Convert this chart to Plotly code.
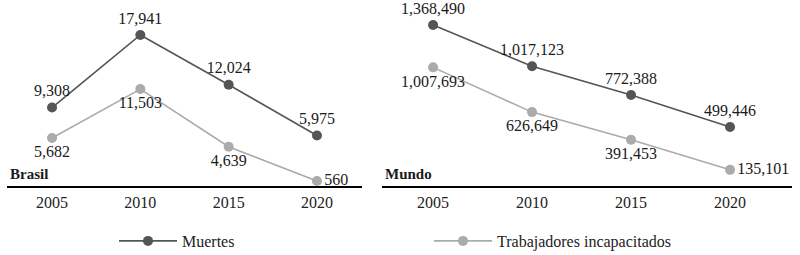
import plotly.graph_objects as go

years = [2005, 2010, 2015, 2020]
brasil_muertes = [9308, 17941, 12024, 5975]
brasil_incap = [5682, 11503, 4639, 560]
mundo_muertes = [1368490, 1017123, 772388, 499446]
mundo_incap = [1007693, 626649, 391453, 135101]
series_names = ["Muertes", "Trabajadores incapacitados"]
panel_titles = ["Brasil", "Mundo"]

FONT = "Liberation Serif"
DARK = "#555555"
LIGHT = "#ababab"
W, H = 800, 255

fig = go.Figure()

def add(x, y, name, color, pos, xa, ya, show):
    fig.add_trace(go.Scatter(
        x=x, y=y, name=name, mode="lines+markers+text",
        line=dict(color=color, width=1.6),
        marker=dict(color=color, size=10),
        texttemplate="%{y:,}", textposition=pos,
        textfont=dict(family=FONT, size=16, color="#1a1a1a"),
        cliponaxis=False, xaxis=xa, yaxis=ya, showlegend=show,
        hoverinfo="skip",
    ))

add(years, brasil_muertes, series_names[0], DARK,
    ["top center", "top center", "top center", "top center"], "x", "y", True)
add(years, brasil_incap, series_names[1], LIGHT,
    ["bottom center", "bottom center", "bottom center", "middle right"], "x", "y", True)
add(years, mundo_muertes, series_names[0], DARK,
    ["top center", "top center", "top center", "top center"], "x2", "y2", False)
add(years, mundo_incap, series_names[1], LIGHT,
    ["bottom center", "bottom center", "bottom center", "middle right"], "x2", "y2", False)

axis_y = 185.7
ybot = (H - axis_y) / H

xcommon = dict(showline=True, linewidth=2, linecolor="black", showgrid=False,
               zeroline=False, ticks="", tickvals=years,
               tickfont=dict(family=FONT, size=16, color="#222"),
               ticklabelstandoff=1, fixedrange=True)
ycommon = dict(visible=False, showgrid=False, zeroline=False, fixedrange=True)

def px(v):
    return v / W

fig.update_layout(
    width=W, height=H,
    margin=dict(l=0, r=0, t=0, b=0, autoexpand=False),
    paper_bgcolor="white", plot_bgcolor="white",
    xaxis=dict(domain=[px(7), px(362)], range=[2002.45, 2022.55], **xcommon),
    xaxis2=dict(domain=[px(382), px(792)], range=[2002.42, 2023.13], anchor="y2", **xcommon),
    yaxis=dict(domain=[ybot, 1], range=[0, 22107], anchor="x", **ycommon),
    yaxis2=dict(domain=[ybot, 1], range=[0, 1581400], anchor="x2", **ycommon),
    legend=dict(orientation="h", x=px(114), xanchor="left", y=(H - 241) / H, yanchor="middle",
                font=dict(family=FONT, size=16, color="#222"),
                itemwidth=58, entrywidth=242, entrywidthmode="pixels",
                bgcolor="rgba(0,0,0,0)"),
    showlegend=True,
)

for title, xpos in zip(panel_titles, [8, 383]):
    fig.add_annotation(text="<b>" + title + "</b>", xref="paper", yref="paper",
                       x=px(xpos), y=ybot + 2 / H, xanchor="left", yanchor="bottom",
                       showarrow=False, font=dict(family=FONT, size=15, color="#1a1a1a"))

# remove the default 8px page margin so the figure fills the 800x255 window
fig.write_html("out.html", config={"displayModeBar": False},
               post_script="document.body.style.margin='0px';")
